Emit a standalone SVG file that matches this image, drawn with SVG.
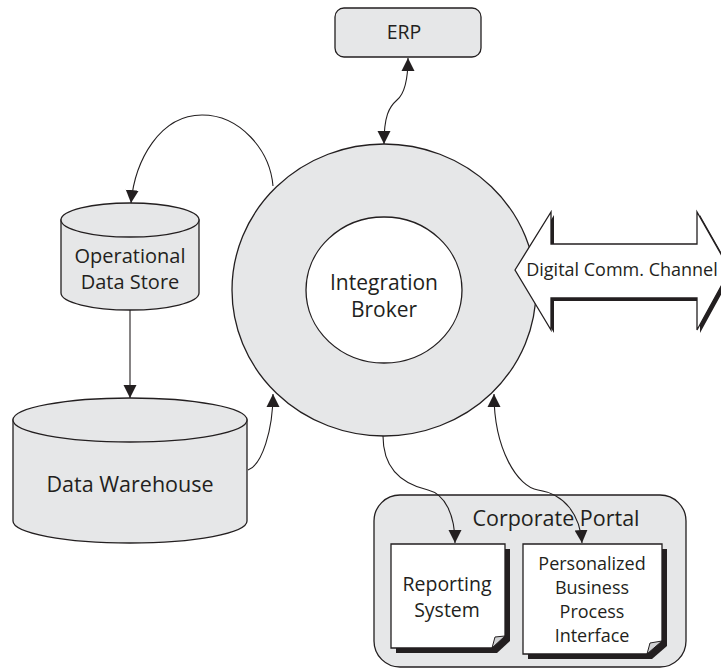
<svg xmlns="http://www.w3.org/2000/svg" width="721" height="670" viewBox="0 0 721 670">
<style>
.s{fill:#e6e7e8;stroke:#231f20;stroke-width:1.3}
.w{fill:#ffffff;stroke:#231f20;stroke-width:1.3}
.sh{fill:#231f20;stroke:none}
.fold{fill:#d0d1d3;stroke:#231f20;stroke-width:1}
.t{font-family:"Open Sans","Noto Sans",sans-serif;fill:#231f20;text-anchor:middle}
.c{fill:none;stroke:#231f20;stroke-width:1.1}
</style>
<defs>
<marker id="ah" markerUnits="userSpaceOnUse" markerWidth="14" markerHeight="14" refX="13" refY="6.5" orient="auto-start-reverse" viewBox="0 0 14 13">
<path d="M0,0 L13,6.5 L0,13 z" fill="#231f20"/>
</marker>
</defs>
<rect width="721" height="670" fill="#ffffff"/>
<g id="erp">
<rect class="s" x="335" y="8" width="146" height="49" rx="9"/>
<text class="t" x="404" y="39" font-size="19.5">ERP</text>
</g>
<g id="broker">
<ellipse class="s" cx="384" cy="290" rx="152" ry="146"/>
<ellipse class="w" cx="384" cy="290" rx="78" ry="73"/>
<text class="t" x="384" y="290" font-size="21">Integration</text>
<text class="t" x="384" y="317" font-size="21">Broker</text>
</g>
<g id="channel">
<polygon class="sh" points="518,273 554,215 554,247 700,247 700,215 733,273 700,333 700,301 554,301 554,333"/>
<polygon class="w" points="515,270 551,212 551,244 697,244 697,212 730,270 697,330 697,298 551,298 551,330"/>
<text class="t" x="622" y="276" font-size="18">Digital Comm. Channel</text>
</g>
<g id="ods">
<path class="s" d="M61,220 L61,293 A69,17 0 0 0 199,293 L199,220 z"/>
<ellipse class="s" cx="130" cy="220" rx="69" ry="17"/>
<text class="t" x="130" y="262.5" font-size="20">Operational</text>
<text class="t" x="130" y="288.5" font-size="20">Data Store</text>
</g>
<g id="dw">
<path class="s" d="M13,420 L13,521 A117,22 0 0 0 247,521 L247,420 z"/>
<ellipse class="s" cx="130" cy="420" rx="117" ry="22"/>
<text class="t" x="130" y="492" font-size="21.5">Data Warehouse</text>
</g>
<g id="portal">
<rect class="s" x="374" y="495" width="312" height="172" rx="26"/>
<text class="t" x="556" y="526" font-size="21.5">Corporate Portal</text>
</g>
<g id="reporting">
<polygon class="sh" points="396,549 510,549 510,641 497,653 396,653"/>
<polygon class="w" points="391,544 505,544 505,636 492,648 391,648"/>
<polygon class="fold" points="492,648 495,637 505,636"/>
<text class="t" x="447" y="591" font-size="19.5">Reporting</text>
<text class="t" x="447" y="617" font-size="19.5">System</text>
</g>
<g id="personalized">
<polygon class="sh" points="528,549 667,549 667,646 652,659 528,659"/>
<polygon class="w" points="523,544 662,544 662,641 647,654 523,654"/>
<polygon class="fold" points="647,654 650,643 662,641"/>
<text class="t" x="592" y="569.5" font-size="18">Personalized</text>
<text class="t" x="592" y="593.5" font-size="18">Business</text>
<text class="t" x="592" y="617.5" font-size="18">Process</text>
<text class="t" x="592" y="641.5" font-size="18">Interface</text>
</g>
<g id="connectors">
<path class="c" d="M408,58 C408,85 403,95 397,100 C389,107 384,116 384,144" marker-start="url(#ah)" marker-end="url(#ah)"/>
<path class="c" d="M273,186 C270,150 240,115 202,115 C160,115 135,160 131,203" marker-end="url(#ah)"/>
<path class="c" d="M130,310 L130,398" marker-end="url(#ah)"/>
<path class="c" d="M248,470 C262,465 273,430 273,394" marker-end="url(#ah)"/>
<path class="c" d="M383,436 C383,478 415,487 428,490 C445,494 455,515 455,543" marker-end="url(#ah)"/>
<path class="c" d="M494,394 C494,450 518,487 538,490 C565,494 580,515 582,543" marker-start="url(#ah)" marker-end="url(#ah)"/>
</g>
</svg>
